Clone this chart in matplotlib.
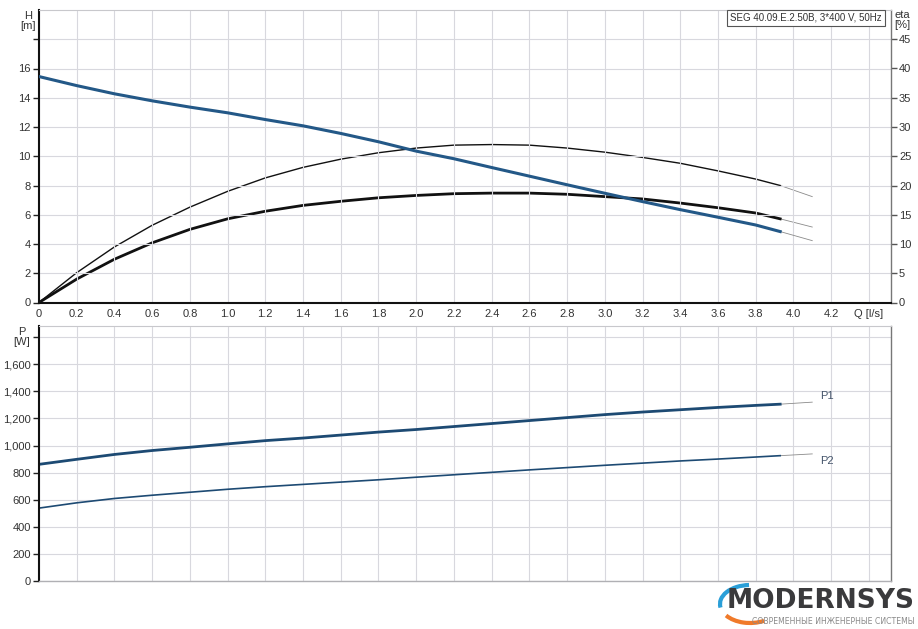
import matplotlib
matplotlib.use("Agg")
import matplotlib.pyplot as plt
from matplotlib.patches import Arc

plt.rcParams['font.family'] = ['Liberation Sans', 'DejaVu Sans']

# ---------------- data ----------------
q = [0, 0.2, 0.4, 0.6, 0.8, 1.0, 1.2, 1.4, 1.6, 1.8, 2.0, 2.2, 2.4, 2.6, 2.8,
     3.0, 3.2, 3.4, 3.6, 3.8, 3.93]
q_ext = [3.93, 4.1]

head = [15.45, 14.83, 14.27, 13.79, 13.36, 12.97, 12.51, 12.08, 11.56, 10.99,
        10.35, 9.83, 9.23, 8.64, 8.05, 7.47, 6.90, 6.35, 5.83, 5.30, 4.85]
head_ext = [4.85, 4.23]

eta_pump = [0, 5.1, 9.5, 13.2, 16.3, 19.0, 21.3, 23.1, 24.5, 25.6, 26.4, 26.9,
            27.0, 26.9, 26.4, 25.7, 24.8, 23.8, 22.5, 21.1, 20.0]
eta_pump_ext = [20.0, 18.1]

eta_total = [0, 4.0, 7.4, 10.2, 12.5, 14.3, 15.6, 16.6, 17.3, 17.9, 18.3, 18.6,
             18.7, 18.7, 18.5, 18.1, 17.7, 17.0, 16.2, 15.3, 14.3]
eta_total_ext = [14.3, 12.9]

p1 = [861, 898, 934, 963, 987, 1012, 1036, 1055, 1077, 1099, 1118, 1140, 1162,
      1184, 1206, 1228, 1247, 1264, 1281, 1296, 1305]
p1_ext = [1305, 1320]

p2 = [538, 577, 609, 633, 655, 677, 696, 713, 730, 747, 766, 784, 802, 820,
      837, 854, 870, 886, 900, 915, 925]
p2_ext = [925, 938]

x_ticks = [0, 0.2, 0.4, 0.6, 0.8, 1.0, 1.2, 1.4, 1.6, 1.8, 2.0, 2.2, 2.4, 2.6,
           2.8, 3.0, 3.2, 3.4, 3.6, 3.8, 4.0, 4.2, 4.4]
x_tick_labels = ['0', '0.2', '0.4', '0.6', '0.8', '1.0', '1.2', '1.4', '1.6',
                 '1.8', '2.0', '2.2', '2.4', '2.6', '2.8', '3.0', '3.2', '3.4',
                 '3.6', '3.8', '4.0', '4.2', 'Q [l/s]']
h_ticks = [0, 2, 4, 6, 8, 10, 12, 14, 16, 18]
h_tick_labels = ['0', '2', '4', '6', '8', '10', '12', '14', '16', '']
eta_ticks = [0, 5, 10, 15, 20, 25, 30, 35, 40, 45]
eta_tick_labels = ['0', '5', '10', '15', '20', '25', '30', '35', '40', '45']
p_ticks = [0, 200, 400, 600, 800, 1000, 1200, 1400, 1600, 1800]
p_tick_labels = ['0', '200', '400', '600', '800', '1,000', '1,200', '1,400',
                 '1,600', '']
title_box = 'SEG 40.09.E.2.50B, 3*400 V, 50Hz'

# ---------------- style ----------------
W, H = 918, 629
fig = plt.figure(figsize=(W / 100, H / 100), dpi=100)
fig.patch.set_facecolor('white')

grid_c = '#d8d8de'
txt_c = '#333333'
blue = '#235887'
navy = '#1d4a73'
ext_c = '#8a8a8a'
fs = 8

x0, x1 = 39, 890.7
xmax = 4.516

def fax(left, top, right, bottom):
    return [left / W, 1 - bottom / H, (right - left) / W, (bottom - top) / H]

# ---- top axes ----
ax1 = fig.add_axes(fax(x0, 10, x1, 302.5))
ax1.set_xlim(0, xmax)
ax1.set_ylim(0, 20)
ax1.set_xticks(x_ticks)
ax1.set_xticklabels(x_tick_labels)
ax1.set_yticks(h_ticks)
ax1.set_yticklabels(h_tick_labels)
ax1.tick_params(axis='x', length=0, pad=5, labelsize=fs, labelcolor=txt_c)
ax1.tick_params(axis='y', length=4, width=1, color='#222222', labelsize=fs,
                labelcolor=txt_c, pad=2)
ax1.grid(True, color=grid_c, lw=0.8)
ax1.set_axisbelow(True)
ax1.spines['top'].set_color('#c8c8cc')
ax1.spines['top'].set_linewidth(0.8)
ax1.spines['right'].set_color('#777777')
ax1.spines['right'].set_linewidth(1.0)
ax1.spines['left'].set_color('#111111')
ax1.spines['left'].set_linewidth(1.5)
ax1.spines['bottom'].set_color('#111111')
ax1.spines['bottom'].set_linewidth(1.5)

ax1r = ax1.twinx()
ax1r.set_ylim(0, 50)
ax1r.set_yticks(eta_ticks)
ax1r.set_yticklabels(eta_tick_labels)
ax1r.tick_params(axis='y', length=4, width=1, color='#555555', labelsize=fs,
                 labelcolor=txt_c, pad=2)
for s in ax1r.spines.values():
    s.set_visible(False)

# curves (top)
ax1.plot(q_ext, head_ext, color=ext_c, lw=0.6, zorder=3)
ax1r.plot(q_ext, eta_pump_ext, color=ext_c, lw=0.6, zorder=3)
ax1r.plot(q_ext, eta_total_ext, color=ext_c, lw=0.6, zorder=3)
ax1r.plot(q, eta_pump, color='#111111', lw=1.0, zorder=4)
ax1r.plot(q, eta_total, color='#111111', lw=2.0, zorder=4)
ax1.plot(q, head, color=blue, lw=2.2, zorder=5)
ax1.set_zorder(2)
ax1.patch.set_visible(False)
ax1r.set_zorder(1)

# labels
fig.text(28 / W, 1 - 21 / H, 'H\n[m]', ha='center', va='center', fontsize=fs,
         color=txt_c, linespacing=1.1)
fig.text(902 / W, 1 - 20 / H, 'eta\n[%]', ha='center', va='center',
         fontsize=fs, color=txt_c, linespacing=1.1)
fig.text(882 / W, 1 - 18 / H, title_box, ha='right', va='center', fontsize=7,
         color=txt_c,
         bbox=dict(boxstyle='square,pad=0.3', fc='white', ec='#555555',
                   lw=0.8))

# ---- bottom axes ----
ax2 = fig.add_axes(fax(x0, 326, x1, 581))
ax2.set_xlim(0, xmax)
ax2.set_ylim(0, 1882)
ax2.set_xticks(x_ticks)
ax2.set_xticklabels([])
ax2.set_yticks(p_ticks)
ax2.set_yticklabels(p_tick_labels)
ax2.tick_params(axis='x', length=0)
ax2.tick_params(axis='y', length=4, width=1, color='#222222', labelsize=fs,
                labelcolor=txt_c, pad=2)
ax2.grid(True, color=grid_c, lw=0.8)
ax2.set_axisbelow(True)
ax2.spines['top'].set_color('#c8c8cc')
ax2.spines['top'].set_linewidth(0.8)
ax2.spines['bottom'].set_color('#b0b0b4')
ax2.spines['bottom'].set_linewidth(1.0)
ax2.spines['right'].set_color('#777777')
ax2.spines['right'].set_linewidth(1.0)
ax2.spines['left'].set_color('#111111')
ax2.spines['left'].set_linewidth(1.5)

ax2.plot(q_ext, p1_ext, color=ext_c, lw=0.6)
ax2.plot(q_ext, p2_ext, color=ext_c, lw=0.6)
ax2.plot(q, p1, color=navy, lw=2.0)
ax2.plot(q, p2, color=navy, lw=1.2)
ax2.text(4.14, 1362, 'P1', fontsize=fs, color='#44546a', ha='left',
         va='center')
ax2.text(4.14, 888, 'P2', fontsize=fs, color='#44546a', ha='left',
         va='center')
fig.text(22 / W, 1 - 337 / H, 'P\n[W]', ha='center', va='center', fontsize=fs,
         color=txt_c, linespacing=1.1)

# ---- logo ----
fig.text(915 / W, 1 - 614 / H, 'MODERNSYS', ha='right', va='bottom',
         fontsize=19, fontweight='bold', color='#3a3a3c',
         family=['DejaVu Sans'])
fig.text(915 / W, 1 - 617 / H, 'СОВРЕМЕННЫЕ ИНЖЕНЕРНЫЕ СИСТЕМЫ', ha='right',
         va='top', fontsize=5.6, color='#8a8a8a', family=['DejaVu Sans'])
cx, cy = 750, 604
fig.add_artist(Arc((cx / W, 1 - cy / H), 60 / W, 38 / H, theta1=92,
                   theta2=190, color='#2a9fd8', lw=3,
                   transform=fig.transFigure))
fig.add_artist(Arc((cx / W, 1 - cy / H), 60 / W, 38 / H, theta1=215,
                   theta2=300, color='#f07a2a', lw=3,
                   transform=fig.transFigure))

fig.savefig('out.png', dpi=100, facecolor='white')
